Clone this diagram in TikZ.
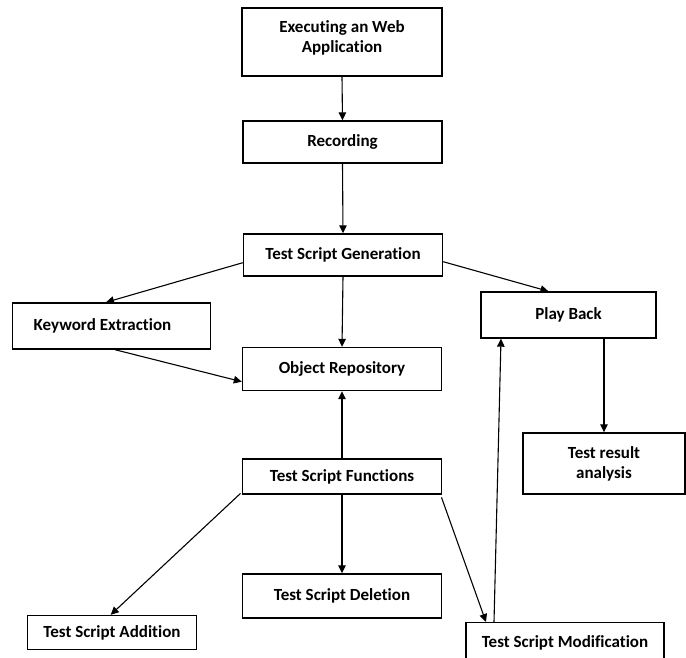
\documentclass[tikz,border=0pt]{standalone}
\usepackage{fontspec}
\setmainfont[Ligatures=NoCommon]{Carlito}
\usetikzlibrary{arrows.meta,calc}
\tikzset{
  box/.style={draw, line width=1.4pt, inner sep=2pt, align=center,
    font=\bfseries\fontsize{17}{20}\selectfont},
  flow/.style={line width=1.1pt, -{Triangle[length=8pt,width=7.5pt]}}
}
\begin{document}
\begin{tikzpicture}[x=1pt,y=-1pt]
\useasboundingbox (0,0) rectangle (686,658);
\clip (0,0) rectangle (686,658);
% process boxes
\node[box, minimum width=200, minimum height=68] (ex)  at (342,42)    {Executing an Web\\Application\\[-10pt]\mbox{}};
\node[box, minimum width=199, minimum height=42] (rec) at (342.5,142) {Recording};
\node[box, minimum width=199, minimum height=42] (tsg) at (343,255)   {Test Script Generation};
\node[box, minimum width=198, minimum height=46] (ke)  at (111.5,326) {Keyword Extraction\hspace*{18pt}};
\node[box, minimum width=199, minimum height=43] (or)  at (342,369)   {Object Repository};
\node[box, minimum width=175, minimum height=46] (pb)  at (568.5,315) {Play Back};
\node[box, minimum width=162, minimum height=61] (tra) at (604,463.5) {Test result\\analysis};
\node[box, minimum width=199, minimum height=35] (tsf) at (342,476.5) {Test Script Functions};
\node[box, minimum width=199, minimum height=44] (tsd) at (342,596)   {Test Script Deletion};
\node[box, minimum width=169, minimum height=34] (tsa) at (112,632.5) {Test Script Addition};
\node[box, minimum width=198, minimum height=40] (tsm) at (565,642.7) {Test Script Modification};
% connectors
\draw[flow] (ex.south) -- (rec.north);
\draw[flow] (rec.south) -- (tsg.north);
\draw[flow] ([yshift=-7.7pt]tsg.west) -- ([xshift=-5.5pt]ke.north);
\draw[flow] (tsg.south) -- (or.north);
\draw[flow] ([yshift=-6.7pt]tsg.east) -- ([xshift=-20pt]pb.north);
\draw[flow] ([xshift=3.5pt]ke.south) -- ([yshift=-12.7pt]or.west);
\draw[flow] (tsf.north) -- (or.south);
\draw[flow] (pb.south -| tra.north) -- (tra.north);
\draw[flow] ([xshift=-1.3pt,yshift=1.3pt]tsf.south west) -- ([xshift=-1.3pt]tsa.north);
\draw[flow] (tsf.south) -- (tsd.north);
\draw[flow] ([xshift=-0.7pt,yshift=-2.7pt]tsf.south east) -- ([xshift=-79pt]tsm.north);
\draw[flow] ([xshift=-71pt]tsm.north) -- ([xshift=-67.5pt]pb.south);
\end{tikzpicture}
\end{document}
